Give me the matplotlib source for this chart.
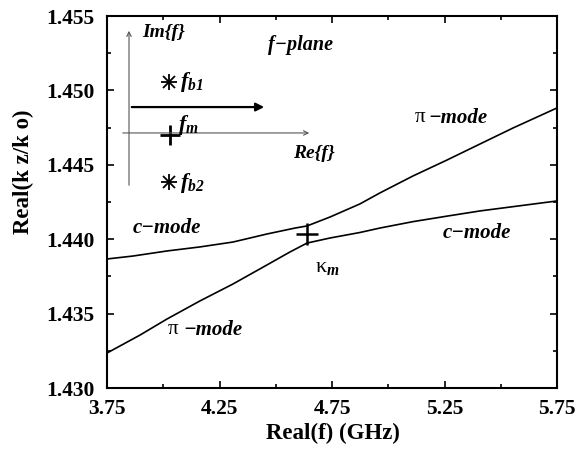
import numpy as np
import matplotlib
matplotlib.use('Agg')
import matplotlib.pyplot as plt

freq_a = [3.750, 3.866, 4.017, 4.163, 4.310, 4.461, 4.586, 4.639, 4.741,
          4.874, 4.963, 5.110, 5.261, 5.408, 5.554, 5.750]
neff_a = [1.43867, 1.43887, 1.43921, 1.43948, 1.43981, 1.44035, 1.44075, 1.44089,
          1.44149, 1.44237, 1.44311, 1.44425, 1.44532, 1.44640, 1.44747, 1.44882]

freq_b = [3.750, 3.897, 4.017, 4.163, 4.310, 4.461, 4.563, 4.639, 4.741,
          4.874, 4.963, 5.110, 5.261, 5.408, 5.750]
neff_b = [1.43235, 1.43356, 1.43464, 1.43585, 1.43699, 1.43827, 1.43914, 1.43974,
          1.44008, 1.44045, 1.44075, 1.44118, 1.44155, 1.44190, 1.44257]

kappa_m = (4.639, 1.44035)

# schematic f-plane inset points
fb_pts = [(4.026, 1.45056), (4.026, 1.44384)]
fm_pt = (4.030, 1.44700)

xticks = [3.75, 4.25, 4.75, 5.25, 5.75]
xticklabels = ['3.75', '4.25', '4.75', '5.25', '5.75']
yticks = [1.430, 1.435, 1.440, 1.445, 1.450, 1.455]
yticklabels = ['1.430', '1.435', '1.440', '1.445', '1.450', '1.455']

plt.rcParams['font.family'] = ['Liberation Serif', 'DejaVu Serif']
plt.rcParams['mathtext.fontset'] = 'custom'
plt.rcParams['mathtext.it'] = 'Liberation Serif:italic:bold'
plt.rcParams['mathtext.rm'] = 'Liberation Serif:italic:bold'
plt.rcParams['mathtext.bf'] = 'Liberation Serif:italic:bold'

fig = plt.figure(figsize=(5.78, 4.54), dpi=100)
ax = fig.add_axes([107 / 578, 66 / 454, 450 / 578, 372 / 454])

ax.plot(freq_a, neff_a, color='black', lw=1.2)
ax.plot(freq_b, neff_b, color='black', lw=1.2)
ax.plot(*kappa_m, marker='+', color='black', ms=16, mew=1.8)

ax.set_xlim(3.75, 5.75)
ax.set_ylim(1.430, 1.455)
ax.set_xticks(xticks)
ax.set_xticklabels(xticklabels)
ax.set_yticks(yticks)
ax.set_yticklabels(yticklabels)
ax.set_xticks(np.arange(4.0, 5.75, 0.5), minor=True)
ax.set_yticks(np.arange(1.4325, 1.455, 0.005), minor=True)
ax.tick_params(which='both', direction='in', top=True, right=True, width=1.2)
ax.tick_params(which='major', length=5, labelsize=15.5, pad=9)
ax.tick_params(which='minor', length=3)
ax.tick_params(axis='x', which='major', pad=8)
for lbl in ax.get_xticklabels() + ax.get_yticklabels():
    lbl.set_fontweight('bold')
for sp in ax.spines.values():
    sp.set_linewidth(1.5)

ax.set_xlabel('Real(f) (GHz)', fontsize=16.5, fontweight='bold')
ax.set_ylabel('Real(k z/k o)', fontsize=16.5, fontweight='bold')
ax.xaxis.set_label_coords(0.502, -0.095)
ax.yaxis.set_label_coords(-0.162, 0.58)

bi = dict(fontsize=15, fontweight='bold', fontstyle='italic', va='center')
ax.text(3.8656, 1.44075, 'c\u2212mode', **bi)
ax.text(5.2433, 1.44042, 'c\u2212mode', **bi)
ax.text(4.0211, 1.43390, '\u03c0', fontsize=15, va='center')
ax.text(4.0878, 1.43390, '\u2212mode', **bi)
ax.text(5.1189, 1.44815, '\u03c0', fontsize=15, va='center')
ax.text(5.1767, 1.44815, '\u2212mode', **bi)
ax.text(4.6744, 1.43813, '\u03ba$_{m}$', fontsize=16, va='center')

# inset: complex frequency plane
ax.annotate('', xy=(3.8478, 1.45419), xytext=(3.8478, 1.44344),
            arrowprops=dict(arrowstyle='->', color='#555555', lw=0.8,
                            mutation_scale=8))
ax.annotate('', xy=(4.6611, 1.44714), xytext=(3.8078, 1.44714),
            arrowprops=dict(arrowstyle='->', color='#555555', lw=0.8,
                            mutation_scale=8))
ax.annotate('', xy=(4.4611, 1.44888), xytext=(3.8478, 1.44888),
            arrowprops=dict(arrowstyle='-|>', color='black', lw=1.6,
                            mutation_scale=12))
for x, y in fb_pts:
    ax.plot(x, y, marker='+', color='black', ms=12, mew=1.3)
    ax.plot(x, y, marker='x', color='black', ms=8.5, mew=1.3)
ax.plot(*fm_pt, marker='+', color='black', ms=14, mew=2)

ax.text(3.9056, 1.45386, 'Im{f}', fontsize=14, fontweight='bold',
        fontstyle='italic', va='center')
ax.text(4.4656, 1.45305, 'f\u2212plane', fontsize=14.5, fontweight='bold',
        fontstyle='italic', va='center')
ax.text(4.5767, 1.44579, 'Re{f}', fontsize=14, fontweight='bold',
        fontstyle='italic', va='center')
ax.text(4.0744, 1.45056, '$f_{b1}$', fontsize=16, va='center')
ax.text(4.0656, 1.44767, '$f_{m}$', fontsize=16, va='center')
ax.text(4.0744, 1.44378, '$f_{b2}$', fontsize=16, va='center')

fig.savefig('out.png', dpi=100)
